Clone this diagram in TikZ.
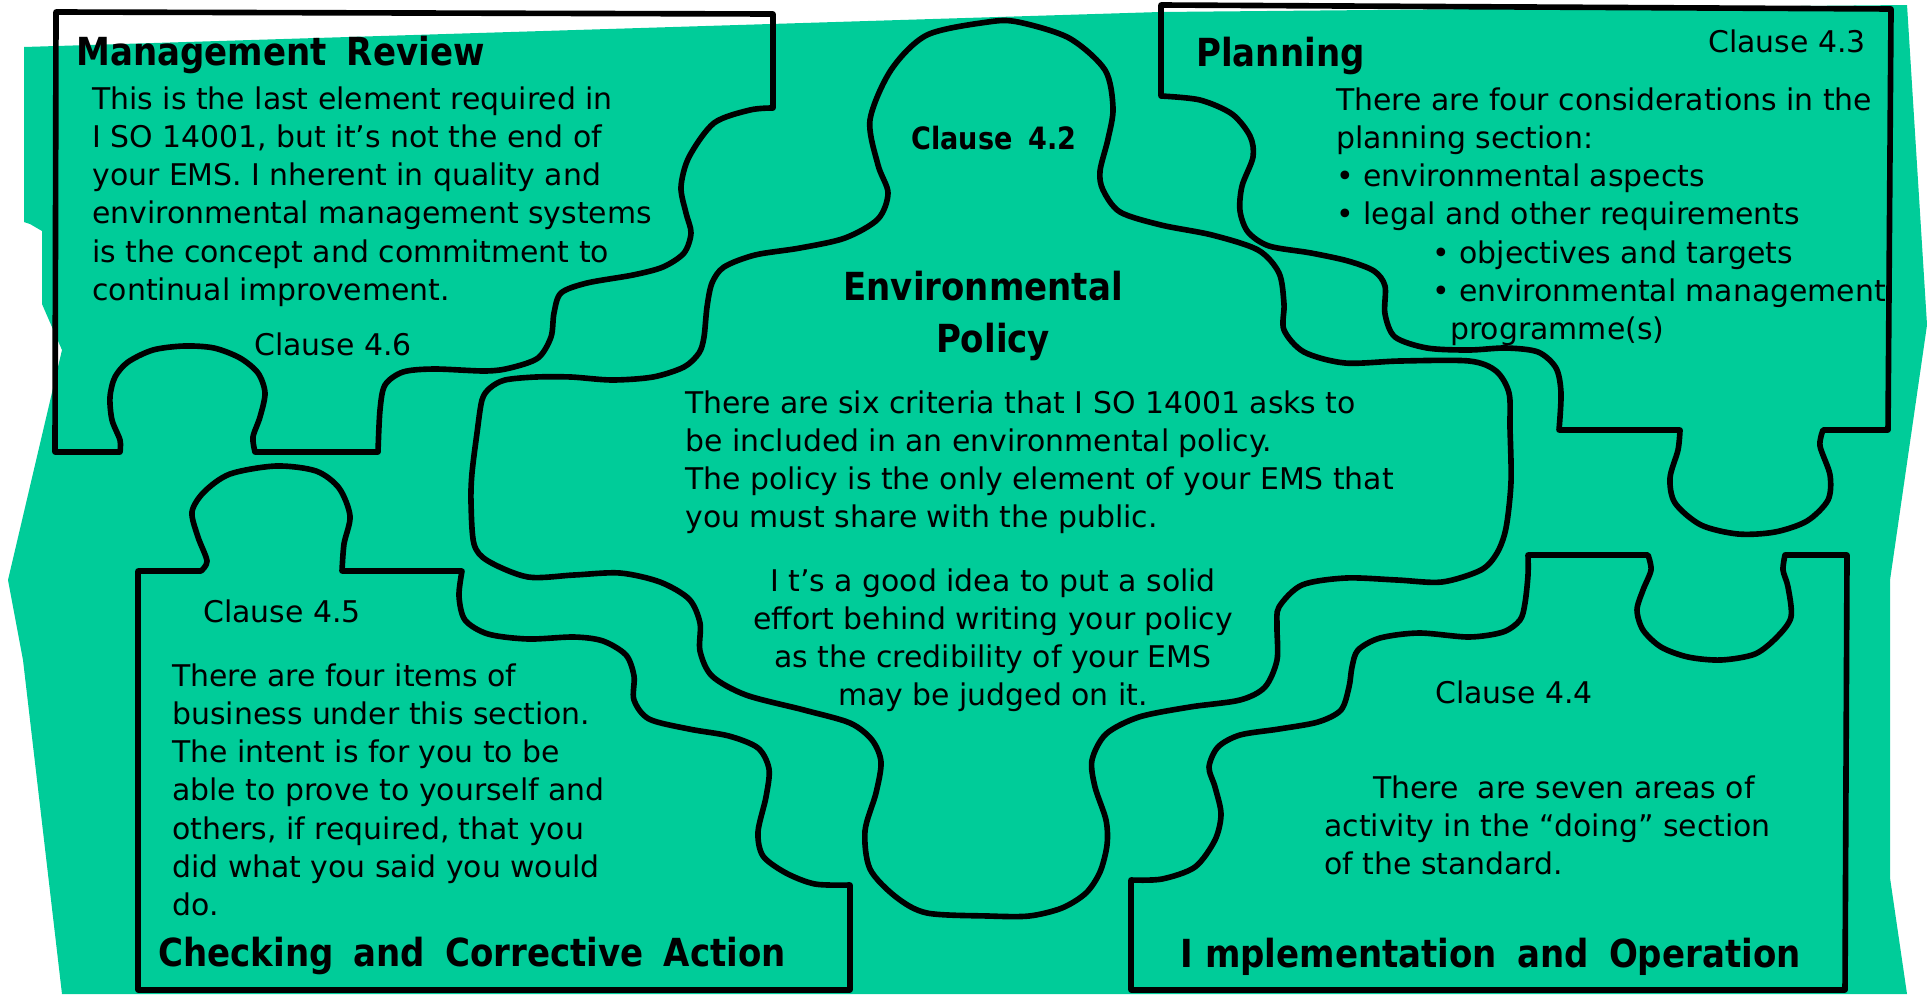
\documentclass[tikz,border=0pt]{standalone}
\usepackage{fontspec}
\setmainfont{DejaVu Sans}
\newfontfamily\ttlfont{DejaVu Sans}[FakeStretch=0.88, WordSpace=1.7]
\definecolor{sheetgreen}{HTML}{00CC99}

\begin{document}
\begin{tikzpicture}[
  x=0.2mm, y=-0.2mm,
  piece/.style={draw=black, line width=3.2pt, line join=round, line cap=round},
  ttl/.style={font=\ttlfont\bfseries\fontsize{22}{26}\selectfont, inner sep=0pt, anchor=base west},
  txt/.style={font=\fontsize{17}{21.8}\selectfont, align=left, inner sep=0pt, anchor=north west},
  cls/.style={font=\fontsize{17}{21.8}\selectfont, inner sep=0pt, anchor=north west}
]
  \useasboundingbox (0,0) rectangle (1927,994);

  % Green sheet behind the pieces
  \fill[sheetgreen] (24,47) -- (1160,12) -- (1907,5) -- (1927,325) -- (1890,580)
    -- (1890,878) -- (1907,994) -- (62,994) -- (23,660) -- (8,580) -- (62,350)
    -- (42,304) -- (42,231) -- (30,224) -- (24,222) -- cycle;

  % Management review piece
  \draw[piece] (56,12) -- (773,14) -- (773,108)
    -- plot[smooth] coordinates {(773,108) (750,110) (714,123) (689,157) (681,187)
      (686,213) (691,233) (684,253) (663,267) (633,275) (587,283) (561,293)
      (554,313) (551,337) (538,358) (510,368) (485,371) (434,369) (403,372)
      (385,385) (380,410) (378,452)}
    -- (255,452)
    -- plot[smooth] coordinates {(255,452) (253,437) (260,417) (265,393) (258,373)
      (240,358) (214,348) (184,346) (153,350) (128,362) (115,377) (110,397)
      (112,420) (120,440) (120,452)}
    -- (55,452) -- cycle;

  % Planning piece
  \draw[piece] (1161,5) -- (1891,9) -- (1888,430) -- (1823,430)
    -- plot[smooth] coordinates {(1823,430) (1820,446) (1830,475) (1828,500)
      (1807,521) (1775,532) (1738,534) (1701,525) (1675,503) (1670,478)
      (1678,450) (1680,430)}
    -- (1559,430)
    -- plot[smooth] coordinates {(1559,430) (1561,393) (1556,368) (1538,352)
      (1506,348) (1469,350) (1427,348) (1395,337) (1385,314) (1385,286)
      (1374,271) (1348,261) (1311,253) (1269,246) (1248,232) (1240,211)
      (1242,186) (1253,157) (1250,136) (1232,114) (1200,100) (1161,96)}
    -- cycle;

  % Checking piece
  \draw[piece] (138,571) -- (201,571)
    -- plot[smooth] coordinates {(201,571) (207,561) (198,537) (192,512) (204,492)
      (230,474) (276,466) (316,471) (339,488) (350,516) (344,544) (342,571)}
    -- (462,571)
    -- plot[smooth] coordinates {(462,571) (459,596) (465,620) (488,634) (528,639)
      (574,637) (603,641) (626,655) (634,676) (634,700) (649,719) (689,729)
      (729,736) (758,748) (769,769) (766,797) (758,832) (763,856) (786,873)
      (815,884) (850,885)}
    -- (850,990) -- (138,990) -- cycle;

  % Implementation piece
  \draw[piece] (1131,880)
    -- plot[smooth] coordinates {(1131,880) (1162,879) (1195,867) (1215,840)
      (1221,814) (1215,787) (1209,767) (1218,747) (1240,735) (1279,729)
      (1318,722) (1341,710) (1349,687) (1352,667) (1358,650) (1380,638)
      (1419,633) (1469,637) (1503,632) (1520,620) (1525,603) (1528,575) (1528,555)}
    -- (1648,555)
    -- plot[smooth] coordinates {(1648,555) (1651,570) (1643,590) (1637,610)
      (1643,630) (1661,647) (1688,657) (1721,660) (1755,654) (1777,637)
      (1791,617) (1788,587) (1783,570) (1785,555)}
    -- (1847,555) -- (1845,990) -- (1131,990) -- cycle;

  % Policy piece in the middle
  \draw[piece] plot[smooth cycle] coordinates {(988,22) (1018,22) (1069,38)
    (1105,70) (1113,108) (1108,139) (1100,171) (1103,190) (1120,212) (1161,225)
    (1212,235) (1258,250) (1279,273) (1284,304) (1284,330) (1304,352) (1345,363)
    (1400,361) (1469,361) (1496,371) (1509,393) (1510,428) (1511,482) (1506,528)
    (1497,553) (1481,570) (1442,582) (1397,580) (1346,578) (1302,585) (1279,607)
    (1277,627) (1277,660) (1265,687) (1240,700) (1190,707) (1139,717) (1106,734)
    (1092,760) (1095,787) (1106,820) (1107,845) (1100,872) (1086,893) (1062,908)
    (1029,916) (988,916) (927,913) (896,897) (870,869) (865,831) (876,793) (881,762)
    (872,740) (850,723) (804,710) (746,695) (712,676) (700,651) (700,623)
    (689,599) (660,582) (620,573) (574,575) (528,577) (488,561) (474,544)
    (471,502) (472,473) (477,433) (482,400) (490,388) (505,380) (536,377)
    (571,377) (612,380) (653,377) (684,367) (699,353) (704,337) (707,307)
    (712,283) (724,267) (755,255) (800,248) (845,238) (878,219) (888,193)
    (878,165) (870,120) (891,70) (927,35)};

  % Texts of the pieces
  \node[ttl] (mrtitle) at (76,65) {Management Review};
  \node[txt] (mrtext) at (92,86) {This is the last element required in\\
    I SO 14001, but it’s not the end of\\
    your EMS. I nherent in quality and\\
    environmental management systems\\
    is the concept and commitment to\\
    continual improvement.};
  \node[cls] (mrclause) at (254,332) {Clause 4.6};

  \node[ttl] (pltitle) at (1196,66) {Planning};
  \node[cls] (plclause) at (1708,29) {Clause 4.3};
  \node[txt] (pltext) at (1336,87) {There are four considerations in the\\
    planning section:\\
    • environmental aspects\\
    • legal and other requirements\\
    \hspace*{19.2mm}• objectives and targets\\
    \hspace*{19.2mm}• environmental management\\
    \hspace*{22.8mm}programme(s)};

  \node[ttl, font=\ttlfont\bfseries\fontsize{17.5}{21}\selectfont, anchor=base]
    (poclause) at (994,149) {Clause 4.2};
  \node[ttl, anchor=base] (potitle) at (983,300) {Environmental};
  \node[ttl, anchor=base] (potitle2) at (993,352) {Policy};
  \node[txt] (potext) at (685,390) {There are six criteria that I SO 14001 asks to\\
    be included in an environmental policy.\\
    The policy is the only element of your EMS that\\
    you must share with the public.};
  \node[txt, align=center, anchor=north] (potext2) at (993,568)
    {I t’s a good idea to put a solid\\
    effort behind writing your policy\\
    as the credibility of your EMS\\
    may be judged on it.};

  \node[cls] (chclause) at (203,599) {Clause 4.5};
  \node[txt] (chtext) at (172,663) {There are four items of\\
    business under this section.\\
    The intent is for you to be\\
    able to prove to yourself and\\
    others, if required, that you\\
    did what you said you would\\
    do.};
  \node[ttl] (chtitle) at (158,966) {Checking and Corrective Action};

  \node[cls] (imclause) at (1435,680) {Clause 4.4};
  \node[txt] (imtext) at (1324,775) {\hspace*{9.8mm}There\ \ are seven areas of\\
    activity in the “doing” section\\
    of the standard.};
  \node[ttl] (imtitle) at (1180,967) {I\hspace{-1.6mm} mplementation and Operation};
\end{tikzpicture}
\end{document}
